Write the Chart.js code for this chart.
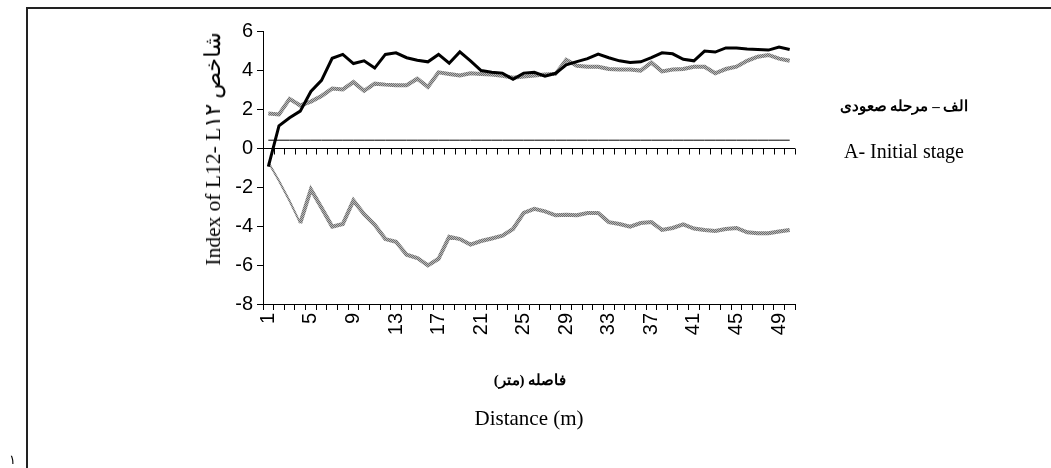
<!DOCTYPE html>
<html><head><meta charset="utf-8">
<script src="https://cdn.jsdelivr.net/npm/chart.js@4.4.1/dist/chart.umd.min.js"></script>
<style>
html,body{margin:0;padding:0;background:#fff;}
#wrap{position:relative;width:1051px;height:468px;overflow:hidden;}
#frame{position:absolute;left:26px;top:7px;width:1100px;height:500px;border-top:2px solid #222;border-left:2px solid #222;}
#c{position:absolute;left:0;top:0;}
.t{position:absolute;white-space:nowrap;color:#000;font-family:"Liberation Serif","Times New Roman",serif;transform:translate(-50%,-50%);}
</style></head>
<body>
<div id="wrap">
<div id="frame"></div>
<canvas id="c" width="1051" height="468"></canvas>
<div class="t" style="left:213px;top:149px;font-size:21.5px;transform:translate(-50%,-50%) rotate(-90deg);">Index of L12- L۱۲ شاخص</div>
<div class="t" style="left:904px;top:106px;font-size:15px;font-weight:bold;" dir="rtl">الف – مرحله صعودی</div>
<div class="t" style="left:904px;top:151px;font-size:20px;">A- Initial stage</div>
<div class="t" style="left:530px;top:380px;font-size:15px;font-weight:bold;" dir="rtl">فاصله (متر)</div>
<div class="t" style="left:529px;top:418px;font-size:21px;">Distance (m)</div>
<div class="t" style="left:12px;top:460px;font-size:13px;">١</div>
</div>
<script>
const distance = [1,2,3,4,5,6,7,8,9,10,11,12,13,14,15,16,17,18,19,20,21,22,23,24,25,26,27,28,29,30,31,32,33,34,35,36,37,38,39,40,41,42,43,44,45,46,47,48,49,50];
const seriesBlack = [-0.95,1.14,1.55,1.89,2.9,3.47,4.6,4.8,4.33,4.47,4.1,4.8,4.88,4.63,4.5,4.42,4.8,4.35,4.93,4.47,3.97,3.89,3.84,3.52,3.84,3.88,3.68,3.83,4.27,4.43,4.58,4.82,4.63,4.47,4.38,4.42,4.63,4.88,4.83,4.55,4.47,4.97,4.92,5.13,5.13,5.08,5.05,5.02,5.18,5.05];
const seriesGrayUpper = [1.77,1.72,2.52,2.18,2.38,2.67,3.05,3.0,3.38,2.93,3.3,3.25,3.22,3.22,3.55,3.13,3.88,3.8,3.72,3.83,3.8,3.77,3.7,3.6,3.67,3.72,3.77,3.8,4.52,4.22,4.17,4.17,4.05,4.03,4.03,3.97,4.38,3.93,4.03,4.05,4.17,4.17,3.83,4.05,4.17,4.47,4.68,4.77,4.58,4.47];
const seriesGrayLower = [-0.73,-1.68,-2.72,-3.85,-2.12,-3.07,-4.03,-3.9,-2.69,-3.39,-3.94,-4.67,-4.81,-5.47,-5.64,-6.02,-5.68,-4.55,-4.67,-4.95,-4.77,-4.64,-4.5,-4.15,-3.33,-3.12,-3.25,-3.45,-3.42,-3.45,-3.33,-3.33,-3.8,-3.9,-4.03,-3.85,-3.8,-4.2,-4.1,-3.92,-4.13,-4.2,-4.25,-4.15,-4.1,-4.32,-4.37,-4.37,-4.28,-4.2];
const seriesThreshold = [0.4,0.4,0.4,0.4,0.4,0.4,0.4,0.4,0.4,0.4,0.4,0.4,0.4,0.4,0.4,0.4,0.4,0.4,0.4,0.4,0.4,0.4,0.4,0.4,0.4,0.4,0.4,0.4,0.4,0.4,0.4,0.4,0.4,0.4,0.4,0.4,0.4,0.4,0.4,0.4,0.4,0.4,0.4,0.4,0.4,0.4,0.4,0.4,0.4,0.4];
const yTicks = [-8,-6,-4,-2,0,2,4,6];

function makePattern(){
  const p = document.createElement('canvas'); p.width = 2; p.height = 2;
  const g = p.getContext('2d');
  g.fillStyle = '#b8b8b8'; g.fillRect(0,0,2,2);
  g.fillStyle = '#6e6e6e'; g.fillRect(0,0,1,1); g.fillRect(1,1,1,1);
  return document.getElementById('c').getContext('2d').createPattern(p,'repeat');
}
const pat = makePattern();

const zeroAxis = {
  id:'zeroAxis',
  beforeDatasetsDraw(chart){
    const {ctx, chartArea:a, scales:{x,y}} = chart;
    const y0 = Math.round(y.getPixelForValue(0)) + 0.5;
    const w = x.getPixelForValue(1) - x.getPixelForValue(0);
    const start = x.getPixelForValue(0) - w/2;
    ctx.save();
    ctx.strokeStyle = '#000'; ctx.lineWidth = 1;
    ctx.beginPath();
    ctx.moveTo(a.left, y0); ctx.lineTo(a.right, y0);
    for (let i = 0; i <= distance.length; i++){
      const px = Math.round(start + i*w) + 0.5;
      ctx.moveTo(px, y0); ctx.lineTo(px, y0 + 6);
    }
    ctx.stroke();
    ctx.restore();
  }
};

new Chart(document.getElementById('c'), {
  type:'line',
  data:{
    labels: distance.map(String),
    datasets:[
      {data:seriesBlack, borderColor:'#000', borderWidth:3, pointRadius:0, tension:0},
      {data:seriesThreshold, borderColor:'#000', borderWidth:1, pointRadius:0, tension:0},
      {data:seriesGrayUpper, borderColor:pat, borderWidth:4, pointRadius:0, tension:0},
      {data:seriesGrayLower, borderColor:pat, borderWidth:4, pointRadius:0, tension:0,
        segment:{borderWidth: c => c.p0DataIndex < 3 ? 2 : 4}}
    ]
  },
  options:{
    responsive:false, animation:false,
    layout:{padding:{left:196,right:256,top:31,bottom:115}},
    plugins:{legend:{display:false}, tooltip:{enabled:false}},
    scales:{
      x:{
        type:'category', offset:true,
        grid:{display:true, drawOnChartArea:false, drawTicks:true, tickLength:6, color:'#000', offset:true},
        border:{display:true, color:'#000', width:1},
        ticks:{autoSkip:false, maxRotation:90, minRotation:90, padding:3, color:'#000',
          font:{family:'"Liberation Sans", Arial, sans-serif', size:20},
          callback:(v,i)=> i%4===0 ? distance[i] : ''},
        afterFit: s => { s.height = 49; }
      },
      y:{
        min:-8, max:6,
        afterBuildTicks: s => { s.ticks = yTicks.map(v => ({value:v})); },
        grid:{display:true, drawOnChartArea:false, drawTicks:true, tickLength:6, color:'#000'},
        border:{display:true, color:'#000', width:1},
        ticks:{padding:4, color:'#000', font:{family:'"Liberation Sans", Arial, sans-serif', size:20}},
        afterFit: s => { s.width = 67; }
      }
    }
  },
  plugins:[zeroAxis]
});
</script>
</body></html>
